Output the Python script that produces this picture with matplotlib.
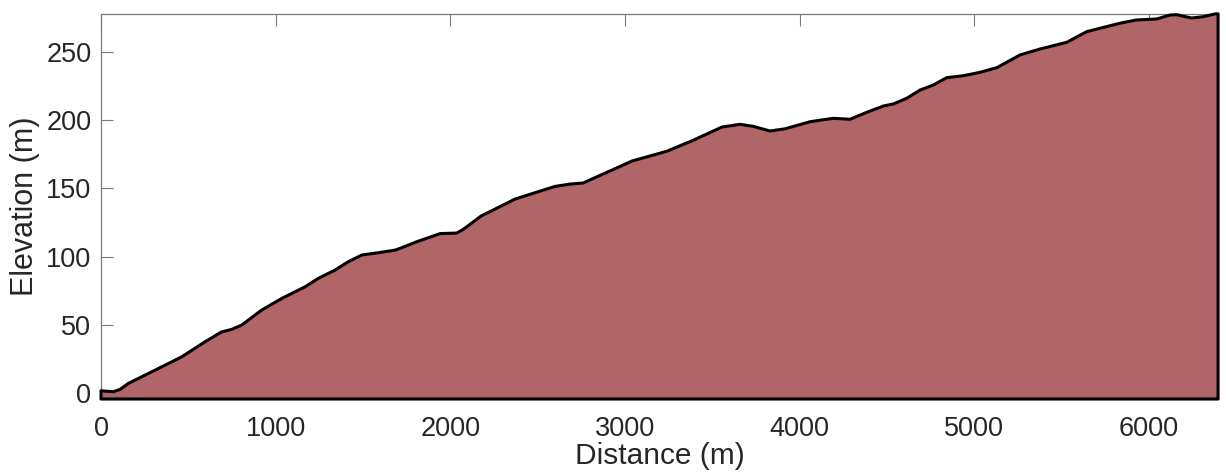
import matplotlib.pyplot as plt
import numpy as np

plt.rcParams['font.family'] = ['Liberation Sans', 'DejaVu Sans']

# profile
distance = [0, 70, 109, 156, 290, 462, 595, 691, 748, 806, 920, 1035, 1168, 1244,
            1340, 1416, 1493, 1588, 1683, 1712, 1807, 1941, 2036, 2074, 2176, 2267,
            2370, 2456, 2599, 2685, 2761, 2840, 2933, 3040, 3143, 3240, 3383, 3555,
            3658, 3734, 3830, 3916, 4059, 4192, 4288, 4384, 4479, 4536, 4613, 4689,
            4765, 4842, 4937, 5032, 5128, 5261, 5376, 5529, 5643, 5719, 5834, 5930,
            6044, 6120, 6158, 6244, 6311, 6378, 6395]
elevation = [1.7, 1.0, 2.7, 7.1, 15.6, 26.6, 37.6, 44.9, 46.7, 49.9, 60.9, 69.4, 77.9,
             84.1, 90.2, 96.3, 101.2, 102.9, 104.8, 106.1, 110.9, 116.9, 117.3, 120.0,
             129.8, 135.6, 142.2, 145.7, 151.5, 153.2, 154.0, 158.6, 163.9, 170.1,
             173.8, 177.3, 184.9, 195.0, 197.0, 195.5, 192.1, 193.7, 198.9, 201.4,
             200.7, 205.8, 210.4, 211.9, 216.1, 222.1, 225.8, 231.2, 232.6, 235.1,
             238.5, 247.8, 252.2, 257.1, 264.9, 267.4, 271.1, 273.5, 274.2, 277.1,
             277.3, 274.9, 275.9, 277.9, 278.0]

x_ticks = [0, 1000, 2000, 3000, 4000, 5000, 6000]
y_ticks = [0, 50, 100, 150, 200, 250]
x_max = 6395
y_min, y_max = -4.3, 278.2

fig = plt.figure(figsize=(12.26, 4.76), dpi=100)
ax = fig.add_axes([0.0824, 0.1618, 0.9111, 0.8098])

# closed polygon: profile, then down the right edge and back along the bottom
px = np.concatenate([[0], distance, [x_max, 0]])
py = np.concatenate([[y_min], elevation, [y_min, y_min]])
ax.fill(px, py, facecolor='#b06666', edgecolor='black', linewidth=2.2,
        joinstyle='round', clip_on=False, zorder=2)

ax.set_xlim(0, x_max)
ax.set_ylim(y_min, y_max)
ax.set_xticks(x_ticks)
ax.set_yticks(y_ticks)

ax.tick_params(direction='in', length=8.5, width=0.8, color='#7a7a7a',
               top=True, right=True, labelsize=19.5, labelcolor='#262626')
ax.tick_params(axis='x', pad=12)
ax.tick_params(axis='y', pad=7)
for s in ax.spines.values():
    s.set_color('#7a7a7a')
    s.set_linewidth(0.9)
    s.set_zorder(1)

ax.set_xlabel('Distance (m)', fontsize=21.5, color='#262626', labelpad=0)
ax.set_ylabel('Elevation (m)', fontsize=22, color='#262626', labelpad=4)

fig.savefig('out.png', dpi=100)
